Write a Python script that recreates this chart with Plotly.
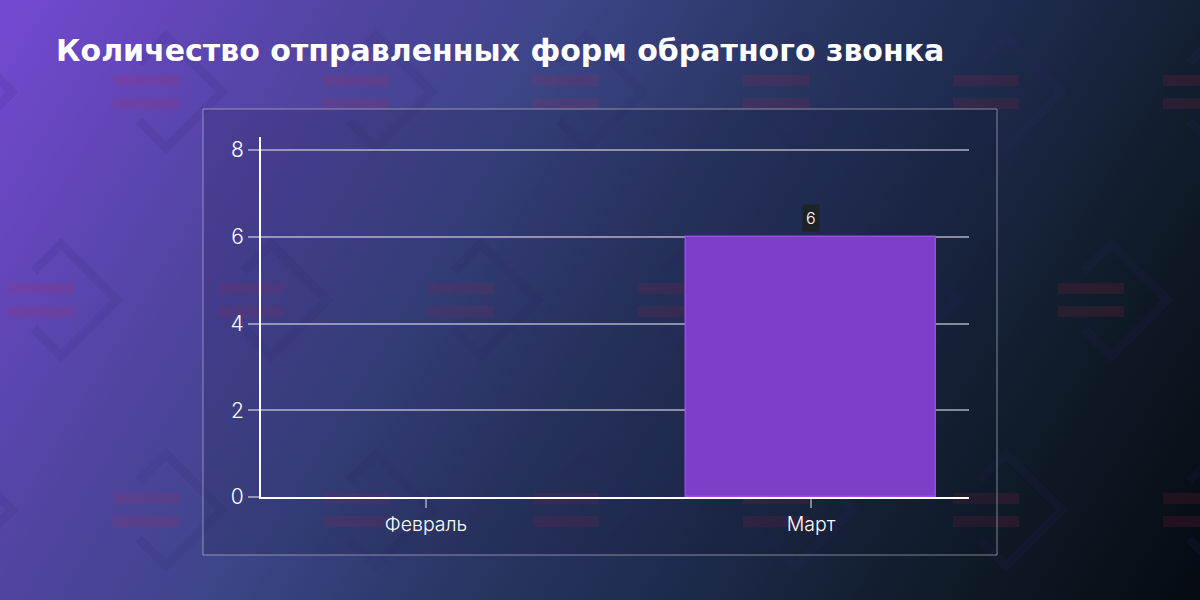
import base64
import plotly.graph_objects as go

# ---- data ----
title_text = "Количество отправленных форм обратного звонка"
categories = ["Февраль", "Март"]
values = [0, 6]
y_ticks = [0, 2, 4, 6, 8]

# ---- geometry helpers (figure pixel -> paper coords) ----
FW, FH = 1200, 600
L, R, T, B = 261, 969, 137, 497
W, H = R - L, B - T


def px(x):
    return (x - L) / W


def py(y):
    return (B - y) / H


# ---- gradient background as svg image ----
svg = f'''<svg xmlns="http://www.w3.org/2000/svg" width="{FW}" height="{FH}" viewBox="0 0 {FW} {FH}">
<defs><linearGradient id="g" gradientUnits="userSpaceOnUse" x1="0" y1="0" x2="1200" y2="720">
<stop offset="0" stop-color="#7449d2"/>
<stop offset="0.22" stop-color="#5044a0"/>
<stop offset="0.35" stop-color="#3d4588"/>
<stop offset="0.5" stop-color="#2a3563"/>
<stop offset="0.63" stop-color="#1e2a4c"/>
<stop offset="0.77" stop-color="#111d2c"/>
<stop offset="1" stop-color="#03060a"/>
</linearGradient></defs>
<rect x="0" y="0" width="{FW}" height="{FH}" fill="url(#g)"/>
</svg>'''
bg_uri = "data:image/svg+xml;base64," + base64.b64encode(svg.encode()).decode()

shapes = []

# decorative motifs: chevron + two stripes, staggered grid
rows = [(92, 146), (300, 41), (510, 146)]
for cy, x0 in rows:
    cx = x0 - 210
    while cx < FW + 120:
        for dy in (-11.5, 11.5):
            shapes.append(dict(
                type="rect", xref="paper", yref="paper", layer="below",
                x0=px(cx - 33), x1=px(cx + 33), y0=py(cy + dy - 5.5), y1=py(cy + dy + 5.5),
                fillcolor="rgba(190,35,80,0.14)", line=dict(width=0)))
        dx = cx + 20
        pts = [(dx - 27, cy - 29), (dx, cy - 56), (dx + 56, cy), (dx, cy + 56), (dx - 27, cy + 29)]
        path = "M " + " L ".join(f"{px(a):.5f},{py(b):.5f}" for a, b in pts)
        shapes.append(dict(
            type="path", xref="paper", yref="paper", layer="below", path=path,
            line=dict(color="rgba(45,40,110,0.13)", width=9)))
        cx += 210

# panel
shapes.append(dict(
    type="rect", xref="paper", yref="paper", layer="below",
    x0=px(203), x1=px(997), y0=py(555), y1=py(109),
    fillcolor="rgba(15,20,40,0.15)", line=dict(color="rgba(200,200,215,0.6)", width=1)))

fig = go.Figure()
fig.add_trace(go.Bar(
    x=categories, y=values, width=0.65,
    marker=dict(color="#7d3ec8",
                line=dict(color="#9a4ce8", width=[1.5 if v > 0 else 0 for v in values])),
    hoverinfo="skip",
))

annotations = []
for c, v in zip(categories, values):
    if v > 0:
        annotations.append(dict(
            x=c, y=v, xref="x", yref="y", text=str(v), showarrow=False,
            yanchor="bottom", yshift=5, bgcolor="#1e2328", borderpad=3,
            font=dict(family="Inter", size=16, color="#ffffff", weight=300)))

fig.update_layout(
    width=FW, height=FH,
    margin=dict(l=L, r=FW - R, t=T, b=FH - B),
    paper_bgcolor="#2a3563",
    plot_bgcolor="rgba(0,0,0,0)",
    showlegend=False,
    bargap=0,
    title=dict(
        text=title_text, x=56 / FW, y=1 - 50 / FH, xref="container", yref="container",
        xanchor="left", yanchor="middle",
        font=dict(family="DejaVu Sans", size=30, color="#ffffff", weight=700)),
    images=[dict(source=bg_uri, xref="paper", yref="paper", x=px(0), y=py(0),
                 sizex=FW / W, sizey=FH / H, sizing="stretch",
                 xanchor="left", yanchor="top", layer="below")],
    shapes=shapes,
    annotations=annotations,
    font=dict(family="Inter", color="#ffffff"),
)

fig.update_xaxes(
    type="category", range=[-0.4286, 1.4104],
    showline=True, linecolor="#ffffff", linewidth=2,
    showgrid=False, zeroline=False,
    ticks="outside", ticklen=9, tickwidth=1.5, tickcolor="rgba(200,200,210,0.6)",
    tickfont=dict(family="Inter", size=19.5, color="#ffffff", weight=300),
    fixedrange=True,
)
fig.update_yaxes(
    range=[0, 8.3], tickvals=y_ticks,
    showline=True, linecolor="#ffffff", linewidth=2,
    showgrid=True, gridcolor="rgba(210,210,225,0.6)", gridwidth=1.5,
    zeroline=False,
    ticks="outside", ticklen=11, tickwidth=1.5, tickcolor="rgba(210,210,225,0.6)",
    tickfont=dict(family="Inter", size=21, color="#ffffff", weight=300),
    fixedrange=True,
)

fig.write_html("out.html", config={"displayModeBar": False},
               post_script="document.body.style.margin='0';document.body.style.overflow='hidden';")
